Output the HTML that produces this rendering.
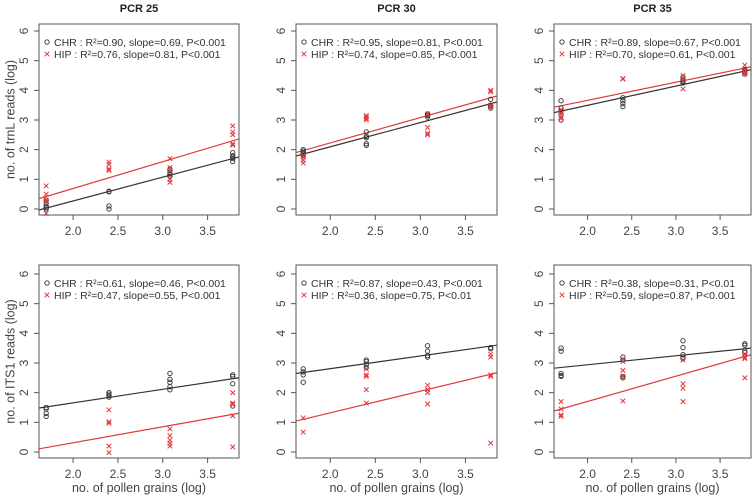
<!DOCTYPE html>
<html><head><meta charset="utf-8">
<style>
html,body{margin:0;padding:0;background:#fff;}
svg{display:block;font-family:"Liberation Sans",Arial,sans-serif;}
</style></head>
<body>
<svg id="chart" width="756" height="498" viewBox="0 0 756 498"></svg>
<script>
const xCats = [1.7, 2.4, 3.08, 3.78];
const xTicks = [2.0, 2.5, 3.0, 3.5];
const yTicks = [0, 1, 2, 3, 4, 5, 6];
const titles = ["PCR 25", "PCR 30", "PCR 35"];
const yTitles = ["no. of trnL reads (log)", "no. of ITS1 reads (log)"];
const legendChr = ["CHR : R²=0.90, slope=0.69, P<0.001","CHR : R²=0.95, slope=0.81, P<0.001","CHR : R²=0.89, slope=0.67, P<0.001",
  "CHR : R²=0.61, slope=0.46, P<0.001","CHR : R²=0.87, slope=0.43, P<0.001","CHR : R²=0.38, slope=0.31, P<0.01"];
const legendHip = ["HIP : R²=0.76, slope=0.81, P<0.001","HIP : R²=0.74, slope=0.85, P<0.001","HIP : R²=0.70, slope=0.61, P<0.001",
  "HIP : R²=0.47, slope=0.55, P<0.001","HIP : R²=0.36, slope=0.75, P<0.01","HIP : R²=0.59, slope=0.87, P<0.001"];
// CHR points per panel, per x category
const chrP1 = [[0.0,0.1,0.2,0.3,0.05],[0.58,0.6,0.0,0.1],[1.1,1.15,1.2,1.3,1.35],[1.6,1.7,1.8,1.9,1.75]];
const chrP2 = [[2.0,1.95,1.9,1.85,1.8],[2.6,2.4,2.45,2.15,2.2],[3.2,3.15,3.1,3.2],[3.7,3.5,3.4,3.45]];
const chrP3 = [[3.65,3.4,3.3,3.2,3.0],[3.75,3.65,3.55,3.45],[4.45,4.35,4.3,4.25],[4.7,4.65,4.6,4.55]];
const chrP4 = [[1.5,1.45,1.3,1.2],[2.0,1.95,1.9,1.85],[2.65,2.45,2.35,2.2,2.1],[2.6,2.55,2.3,1.55]];
const chrP5 = [[2.8,2.7,2.6,2.35],[3.1,3.05,2.95,2.85],[3.58,3.4,3.25,3.2],[3.52,3.48]];
const chrP6 = [[3.5,3.4,2.65,2.58,2.55],[3.2,3.1,2.55,2.5],[3.75,3.52,3.28,3.2,3.15],[3.65,3.6,3.4,3.35]];
// HIP points
const hipP1 = [[0.78,0.5,0.3,0.25,-0.15],[1.58,1.5,1.35,1.3],[1.7,1.4,1.3,1.0,0.9],[2.8,2.6,2.5,2.15,2.2]];
const hipP2 = [[1.55,1.65,1.75,1.8],[3.15,3.1,3.05,3.0],[3.2,2.75,2.55,2.5],[4.0,3.95,3.5,3.45]];
const hipP3 = [[3.35,3.2,3.1,3.05],[4.4,4.38],[4.5,4.4,4.05],[4.85,4.7,4.6,4.55]];
const hipP4 = [[],[1.42,1.02,0.97,0.2,-0.02],[0.78,0.55,0.4,0.3,0.2],[2.0,1.65,1.6,1.22,0.17]];
const hipP5 = [[1.15,0.67],[2.8,2.6,2.55,2.1,1.65],[2.25,2.1,2.0,1.62],[3.3,3.2,2.6,2.55,0.3]];
const hipP6 = [[1.7,1.45,1.25,1.2],[3.05,2.75,2.55,1.72],[3.1,2.3,2.15,1.7],[3.3,3.2,3.15,2.5]];
// fitted line values at x=1.7 and x=3.78
const chrLineStart = [0.03,1.85,3.3,1.52,2.68,2.85];
const chrLineEnd = [1.7,3.55,4.65,2.47,3.57,3.48];
const hipLineStart = [0.42,1.97,3.48,0.15,1.1,1.45];
const hipLineEnd = [2.3,3.75,4.75,1.27,2.62,3.22];

const chrAll=[chrP1,chrP2,chrP3,chrP4,chrP5,chrP6];
const hipAll=[hipP1,hipP2,hipP3,hipP4,hipP5,hipP6];
const RED="#e0383a";
const svg=document.getElementById('chart');
const NS="http://www.w3.org/2000/svg";
function mk(tag,attrs,parent){const e=document.createElementNS(NS,tag);for(const k in attrs)e.setAttribute(k,attrs[k]);(parent||svg).appendChild(e);return e;}
const boxL=[39,296,554], boxW=[200,201,197];
const boxT=[24,265], boxH=[191,193];
const XMIN=1.62, XMAX=3.85, YMIN=-0.25, YMAX=6.25;

for(let p=0;p<6;p++){
  const c=p%3, r=Math.floor(p/3);
  const L=boxL[c],W=boxW[c],T=boxT[r],H=boxH[r];
  const y0=r===0?209:452, y6=r===0?31:274;
  const sx=v=>L+(v-XMIN)/(XMAX-XMIN)*W;
  const sy=v=>y0+(v-0)*(y6-y0)/6;
  const g=mk('g',{});
  
  
  const clipId='clip'+p;
  const cp=mk('clipPath',{id:clipId},g); mk('rect',{x:L,y:T,width:W,height:H},cp);
  // lines
  [[chrLineStart,chrLineEnd,'#333','chr-fit-line'],[hipLineStart,hipLineEnd,RED,'hip-fit-line']].forEach(([s,e,col,nm])=>{
    const slope=(e[p]-s[p])/(3.78-1.7);
    const ya=s[p]+(XMIN-1.7)*slope, yb=s[p]+(XMAX-1.7)*slope;
    const ln=mk('line',{x1:sx(XMIN),y1:sy(ya),x2:sx(XMAX),y2:sy(yb),stroke:col,'stroke-width':1.2,'clip-path':'url(#'+clipId+')'},g);
    
    
  });
  // points
  chrAll[p].forEach((arr,i)=>arr.forEach(v=>{
    const ci=mk('circle',{cx:sx(xCats[i]),cy:sy(v),r:2.2,fill:'none',stroke:'#333','stroke-width':0.9},g);
    
    
  }));
  hipAll[p].forEach((arr,i)=>arr.forEach(v=>{
    const x=sx(xCats[i]),y=sy(v),d=2.3;
    const pa=mk('path',{d:`M${x-d},${y-d}L${x+d},${y+d}M${x-d},${y+d}L${x+d},${y-d}`,stroke:RED,'stroke-width':1,fill:'none'},g);
    
    
  }));
  // box
  const bx=mk('rect',{x:L,y:T,width:W,height:H,fill:'none',stroke:'#555','stroke-width':1},g);
  
  
  // y ticks
  yTicks.forEach(t=>{
    const y=sy(t);
    mk('line',{x1:L-5,y1:y,x2:L,y2:y,stroke:'#555'},g);
    const tx=mk('text',{x:L-11,y:y,'font-size':12,fill:'#444','text-anchor':'middle',transform:`rotate(-90 ${L-11} ${y})`,'dominant-baseline':'auto'},g);
    tx.textContent=t;
    
    
  });
  // x ticks
  xTicks.forEach(t=>{
    const x=sx(t);
    mk('line',{x1:x,y1:T+H,x2:x,y2:T+H+5,stroke:'#555'},g);
    const tx=mk('text',{x:x,y:T+H+20,'font-size':12,fill:'#444','text-anchor':'middle'},g);
    tx.textContent=t.toFixed(1);
    
    
  });
  // legend
  const lx=L+8;
  const lc=mk('circle',{cx:lx,cy:T+18,r:2.2,fill:'none',stroke:'#333','stroke-width':0.9},g);
  
  
  const t1=mk('text',{x:lx+7,y:T+22,'font-size':10.5,fill:'#333'},g); t1.textContent=legendChr[p];
  
  
  const ly=T+30;
  const lh=mk('path',{d:`M${lx-2.3},${ly-2.3}L${lx+2.3},${ly+2.3}M${lx-2.3},${ly+2.3}L${lx+2.3},${ly-2.3}`,stroke:RED,'stroke-width':1},g);
  
  
  const t2=mk('text',{x:lx+7,y:T+34,'font-size':10.5,fill:'#333'},g); t2.textContent=legendHip[p];
  
  
  if(r===0){
    const tt=mk('text',{x:L+W/2,y:12,'font-size':11,'font-weight':'bold',fill:'#222','text-anchor':'middle'},g);
    tt.textContent=titles[c];
    
    
  } else {
    const xl=mk('text',{x:L+W/2,y:492,'font-size':12.5,fill:'#444','text-anchor':'middle'},g);
    xl.textContent='no. of pollen grains (log)';
    
    
  }
  if(c===0){
    const cy=T+H/2;
    const yl=mk('text',{x:11,y:cy,'font-size':12.5,fill:'#444','text-anchor':'middle',transform:`rotate(-90 11 ${cy})`,'dominant-baseline':'middle'},g);
    yl.textContent=yTitles[r];
    
    
  }
}
</script>
</body></html>
